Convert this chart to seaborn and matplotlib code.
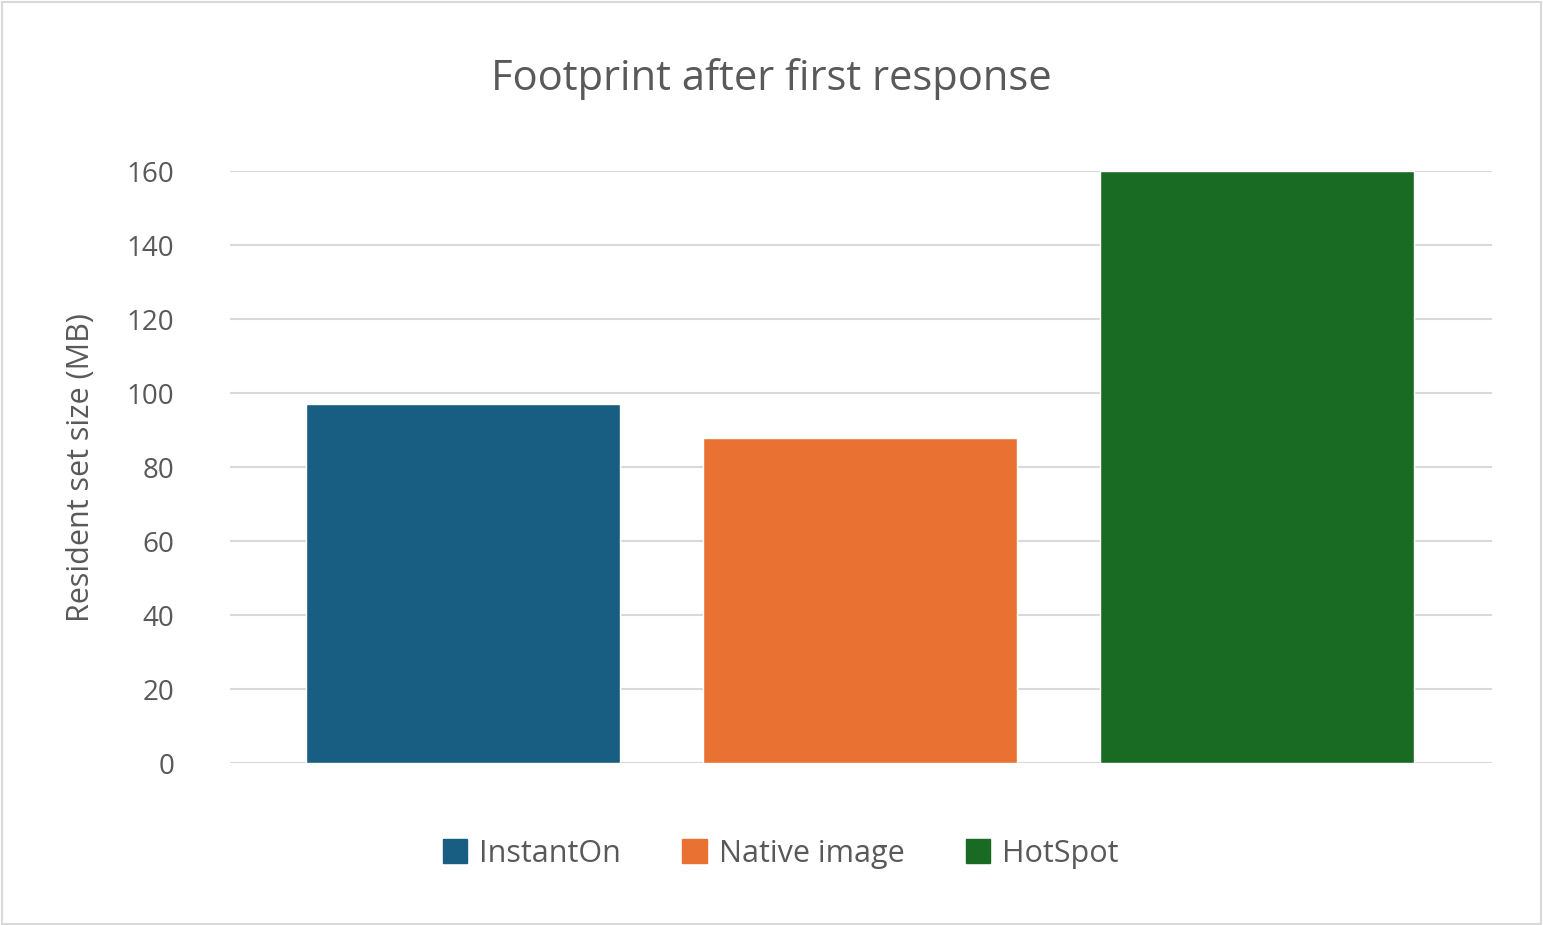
import matplotlib
matplotlib.use("Agg")
import matplotlib.pyplot as plt
import seaborn as sns
import pandas as pd

categories = ["InstantOn", "Native image", "HotSpot"]
rss_mb = [97, 88, 160]
colors = ["#175E82", "#E97132", "#196B24"]

sns.set_style("white")
plt.rcParams['font.family'] = ['Open Sans', 'DejaVu Sans']
text_color = "#595959"

df = pd.DataFrame({"runtime": categories, "rss": rss_mb})

fig = plt.figure(figsize=(15.43, 9.25), dpi=100)
ax = fig.add_axes([0.149, 0.175, 0.818, 0.64])
sns.barplot(data=df, x="runtime", y="rss", hue="runtime", palette=colors,
            width=0.79, ax=ax, legend=False, saturation=1)

ax.set_xlim(-0.587, 2.592)
ax.set_ylim(0, 160)
ax.set_yticks(range(0, 161, 20))
ax.yaxis.grid(True, color="#D9D9D9", linewidth=1.5)
ax.set_axisbelow(True)
for s in ax.spines.values():
    s.set_visible(False)
ax.axhline(0, color="#D9D9D9", linewidth=1.5, zorder=0)
ax.set_xticks([])
ax.set_xlabel("")
ax.set_ylabel("Resident set size (MB)", fontsize=22, color=text_color, labelpad=22)
ax.tick_params(axis="y", labelsize=20, labelcolor=text_color, length=0, pad=40)

fig.text(0.5, 0.915, "Footprint after first response", ha="center", va="center",
         fontsize=30, color=text_color)

handles = [plt.Rectangle((0, 0), 1, 1, color=c) for c in colors]
fig.legend(handles, categories, loc="center", bbox_to_anchor=(0.506, 0.077), ncol=3,
           frameon=False, fontsize=22, labelcolor=text_color, handlelength=0.8,
           handleheight=0.8, columnspacing=2.0, handletextpad=0.4)

fig.patches.append(plt.Rectangle((0.001, 0.001), 0.998, 0.997, transform=fig.transFigure,
                                 fill=False, edgecolor="#D9D9D9", linewidth=1.5))
fig.savefig("out.png", dpi=100)
